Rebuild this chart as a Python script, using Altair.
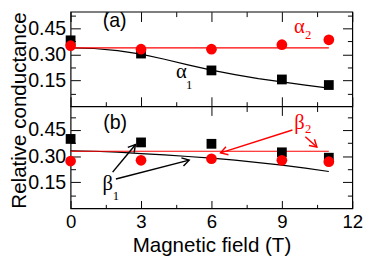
import math
import altair as alt
import pandas as pd

# ---------------- data (panel-local values) ----------------
field_T = [0, 3, 6, 9, 11]
alpha1 = [0.381, 0.305, 0.208, 0.156, 0.124]   # black squares, panel (a)
alpha2 = [0.350, 0.330, 0.330, 0.356, 0.384]   # red circles, panel (a)
beta1 = [0.399, 0.379, 0.371, 0.322, 0.291]    # black squares, panel (b)
beta2 = [0.272, 0.276, 0.285, 0.276, 0.268]    # red circles, panel (b)

fit_T = [0, 1, 2, 3, 4, 5, 6, 7, 8, 9, 10, 11]
alpha1_fit = [0.3375, 0.334, 0.322, 0.302, 0.272, 0.240, 0.210, 0.184, 0.161, 0.142, 0.123, 0.106]
beta1_fit = [0.330, 0.328, 0.323, 0.315, 0.307, 0.298, 0.289, 0.277, 0.263, 0.248, 0.231, 0.212]
flat_T = [0, 11]
alpha2_fit = [0.3375, 0.3375]
beta2_fit = [0.328, 0.328]

x_ticks = [0, 3, 6, 9, 12]
x_minor = [1.5, 4.5, 7.5, 10.5]
y_ticks = [0.15, 0.30, 0.45]
y_minor = [0.075, 0.225, 0.375, 0.525]
mid_ticks = [6, 9]
mid_minor = [7.5, 10.5]

# panel tags
panel_text = ["(a)", "(b)"]
panel_tag = ["a", "b"]
panel_T = [1.875, 1.896]
panel_v = [0.489, 0.492]

# greek labels (letter, subscript)
greek_text = ["\u03b1", "\u03b1", "\u03b2", "\u03b2"]
greek_sub = ["1", "2", "1", "2"]
greek_panel = ["a", "a", "b", "b"]
greek_color = ["black", "#ff0000", "black", "#ff0000"]
greek_T = [4.72, 9.74, 1.583, 9.75]
greek_v = [0.165, 0.4235, 0.107, 0.457]
sub_T = [5.05, 10.125, 1.93, 10.125]
sub_v = [0.0996, 0.39, 0.047, 0.433]

# arrows (panel b)
arrow_T0 = [1.79, 1.93, 9.45, 10.0]
arrow_v0 = [0.208, 0.169, 0.45, 0.412]
arrow_T1 = [2.76, 5.05, 6.39, 10.49]
arrow_v1 = [0.366, 0.277, 0.319, 0.353]
arrow_color = ["black", "black", "#ff0000", "#ff0000"]

# ---------------- layout constants ----------------
W, H = 288, 201
B = 0.585          # vertical shift of panel (a)
D = 1.1305         # combined y domain top
mid_px = H * B / D # boundary position from bottom (px)

SANS = "Liberation Sans"
SERIF = "Liberation Serif"

xs = alt.Scale(domain=[0, 12], nice=False, zero=False)
ys = alt.Scale(domain=[0, D], nice=False, zero=False)
YC = f"datum.value + (datum.panel == 'a' ? {B} : 0)"


def X(f="T"):
    return alt.X(f"{f}:Q", scale=xs, axis=None)


def Y(f="yc"):
    return alt.Y(f"{f}:Q", scale=ys, axis=None)


# ---------------- tables ----------------
pts = []
for name, vals, panel in [("alpha1", alpha1, "a"), ("alpha2", alpha2, "a"),
                          ("beta1", beta1, "b"), ("beta2", beta2, "b")]:
    for t, v in zip(field_T, vals):
        pts.append({"series": name, "panel": panel, "T": t, "value": v})
pts = pd.DataFrame(pts)

lines = []
for name, ts, vals, panel, col in [("a1", fit_T, alpha1_fit, "a", "black"),
                                   ("b1", fit_T, beta1_fit, "b", "black"),
                                   ("a2", flat_T, alpha2_fit, "a", "red"),
                                   ("b2", flat_T, beta2_fit, "b", "red")]:
    for t, v in zip(ts, vals):
        lines.append({"series": name, "panel": panel, "T": t, "value": v, "col": col})
lines = pd.DataFrame(lines)

tags = pd.DataFrame({"text": panel_text, "panel": panel_tag, "T": panel_T, "value": panel_v})
greek = pd.DataFrame({"text": greek_text, "panel": greek_panel, "T": greek_T,
                      "value": greek_v, "color": greek_color})
subs = pd.DataFrame({"text": greek_sub, "panel": greek_panel, "T": sub_T,
                     "value": sub_v, "color": greek_color})


def head_angle(t0, v0, t1, v1):
    dx = (t1 - t0) * W / 12
    dy = -(v1 - v0) * H / D
    return math.degrees(math.atan2(dy, dx)) % 360


arrows = pd.DataFrame({
    "panel": ["b"] * 4, "T": arrow_T0, "value": arrow_v0,
    "T2": arrow_T1, "value2": arrow_v1, "color": arrow_color,
    "angle": [head_angle(a, b, c, d) for a, b, c, d in zip(arrow_T0, arrow_v0, arrow_T1, arrow_v1)],
})

boundary = pd.DataFrame({"value": [B]})

# ---------------- data layers ----------------
layers = []

layers.append(alt.Chart(boundary).mark_rule(color="black", strokeWidth=1.2).encode(
    y=alt.Y("value:Q", scale=ys, axis=None)))

for col, color, sw in [("black", "black", 1.2), ("red", "#ff0000", 1.2)]:
    layers.append(
        alt.Chart(lines[lines["col"] == col]).transform_calculate(yc=YC)
        .mark_line(color=color, strokeWidth=sw)
        .encode(x=X(), y=Y(), detail="series:N"))

layers.append(
    alt.Chart(pts[pts["series"].isin(["alpha1", "beta1"])]).transform_calculate(yc=YC)
    .mark_point(shape="square", filled=True, size=100, color="black", opacity=1)
    .encode(x=X(), y=Y()))
layers.append(
    alt.Chart(pts[pts["series"].isin(["alpha2", "beta2"])]).transform_calculate(yc=YC)
    .mark_point(shape="circle", filled=True, size=120, color="#ff0000", opacity=1)
    .encode(x=X(), y=Y()))

layers.append(
    alt.Chart(arrows).transform_calculate(yc=YC, yc2=f"datum.value2 + (datum.panel == 'a' ? {B} : 0)")
    .mark_rule(strokeWidth=1.5)
    .encode(x=X(), y=Y(), x2="T2:Q", y2="yc2:Q", color=alt.Color("color:N", scale=None)))
layers.append(
    alt.Chart(arrows).transform_calculate(yc=f"datum.value2 + (datum.panel == 'a' ? {B} : 0)")
    .mark_point(shape="M-1,-0.6L0,0L-1,0.6", filled=False, size=200, strokeWidth=1.5, opacity=1)
    .encode(x=X("T2"), y=Y(), angle=alt.Angle("angle:Q", scale=None),
            color=alt.Color("color:N", scale=None)))

layers.append(
    alt.Chart(tags).transform_calculate(yc=YC)
    .mark_text(font=SANS, fontSize=20, color="black", align="center", baseline="middle")
    .encode(x=X(), y=Y(), text="text:N"))
layers.append(
    alt.Chart(greek).transform_calculate(yc=YC)
    .mark_text(font=SERIF, fontSize=21, align="center", baseline="alphabetic")
    .encode(x=X(), y=Y(), text="text:N", color=alt.Color("color:N", scale=None)))
layers.append(
    alt.Chart(subs).transform_calculate(yc=YC)
    .mark_text(font=SERIF, fontSize=13, align="center", baseline="alphabetic")
    .encode(x=X(), y=Y(), text="text:N", color=alt.Color("color:N", scale=None)))

# ---------------- axes ----------------
y_major_all = y_ticks + [round(v + B, 4) for v in y_ticks]
y_minor_all = y_minor + [round(v + B, 4) for v in y_minor if v + B <= D]


def tick_axis(**kw):
    base = dict(grid=False, domain=False, labels=False, ticks=True, title=None,
                tickColor="black", tickWidth=1)
    base.update(kw)
    return alt.Axis(**base)


x_axes = [
    alt.Axis(orient="bottom", values=x_ticks, ticks=False, tickSize=0, domain=False, grid=False,
             labelFontSize=19, labelFont=SANS, labelColor="black", labelPadding=5,
             labelFlush=False,
             title="Magnetic field (T)", titleFont=SANS, titleFontSize=21,
             titleFontWeight="normal", titleColor="black", titleY=44,
             titleBaseline="alphabetic"),
    tick_axis(orient="top", offset=-H, values=x_ticks, tickSize=8),
    tick_axis(orient="top", offset=-H, values=x_minor, tickSize=4),
    tick_axis(orient="bottom", offset=-H, values=x_ticks, tickSize=10),
    tick_axis(orient="bottom", offset=-H, values=x_minor, tickSize=5),
    tick_axis(orient="top", offset=-(H - mid_px), values=x_ticks, tickSize=10),
    tick_axis(orient="top", offset=-(H - mid_px), values=x_minor, tickSize=5),
    tick_axis(orient="bottom", offset=-mid_px, values=mid_ticks, tickSize=9),
    tick_axis(orient="bottom", offset=-mid_px, values=mid_minor, tickSize=5),
]
y_axes = [
    alt.Axis(orient="left", values=y_major_all,
             labelExpr=f"format(datum.value > {B - 0.01} ? datum.value - {B} : datum.value, '.2f')",
             ticks=False, tickSize=0, domain=False, grid=False,
             labelFontSize=20, labelFont=SANS, labelColor="black", labelPadding=5,
             title="Relative conductance", titleFont=SANS, titleFontSize=21,
             titleFontWeight="normal", titleColor="black", titleX=-46, titleY=H / 2,
             titleAngle=270, titleBaseline="alphabetic", titleAlign="center"),
    tick_axis(orient="right", offset=-W, values=y_major_all, tickSize=10),
    tick_axis(orient="right", offset=-W, values=y_minor_all, tickSize=5),
    tick_axis(orient="left", offset=-W, values=y_major_all, tickSize=10),
    tick_axis(orient="left", offset=-W, values=y_minor_all, tickSize=5),
]

helper = pd.DataFrame({"T": [0.0], "v": [0.0]})
for i, xa in enumerate(x_axes):
    ya = y_axes[i] if i < len(y_axes) else None
    yenc = alt.Y("v:Q", scale=ys, axis=ya) if ya is not None else alt.Y("v:Q", scale=ys, axis=None)
    layers.append(
        alt.Chart(helper).mark_point(opacity=0)
        .encode(x=alt.X("T:Q", scale=xs, axis=xa), y=yenc))

chart = (
    alt.layer(*layers)
    .resolve_axis(x="independent", y="independent")
    .properties(width=W, height=H,
                autosize=alt.AutoSizeParams(type="none"),
                padding={"left": 64, "top": 1, "right": 14, "bottom": 49},
                background="white")
    .configure_view(stroke="black", strokeWidth=1.2)
)

chart.save("out.html", embed_options={"renderer": "svg", "actions": False})
